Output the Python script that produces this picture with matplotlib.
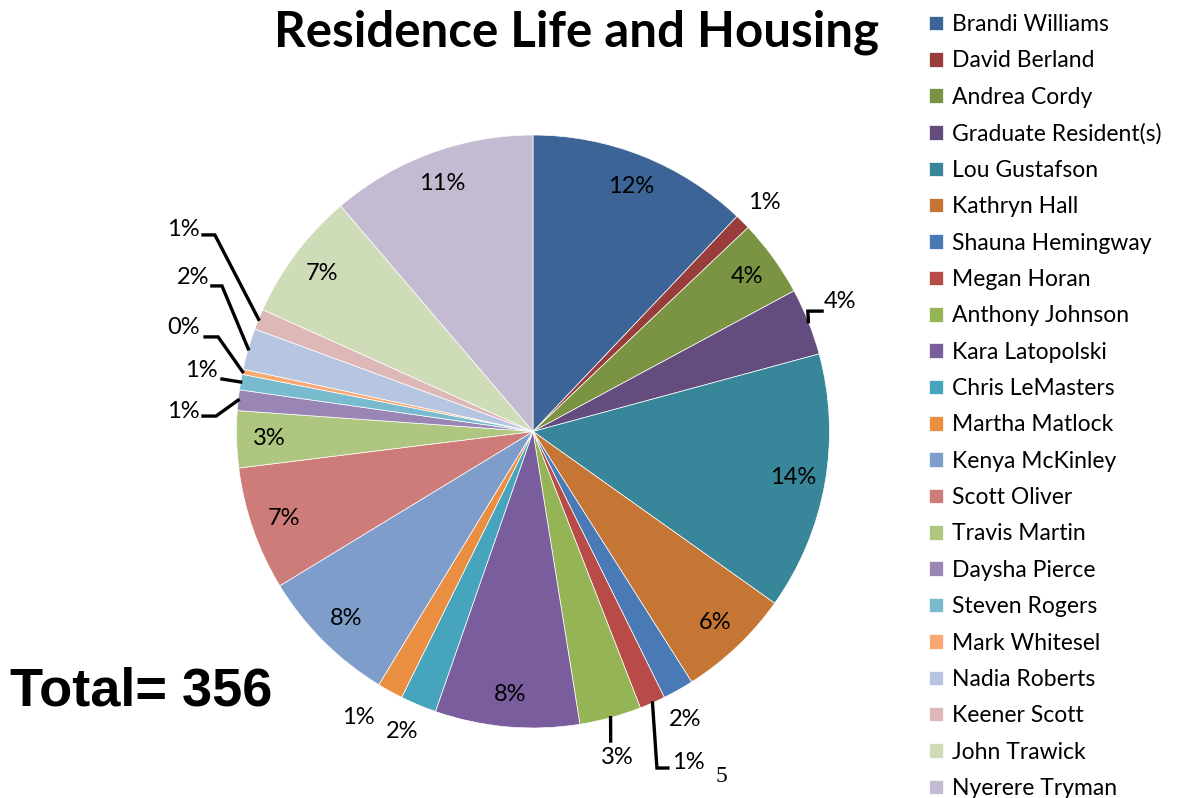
import numpy as np
import matplotlib.pyplot as plt

names = ['Brandi Williams', 'David Berland', 'Andrea Cordy', 'Graduate Resident(s)',
         'Lou Gustafson', 'Kathryn Hall', 'Shauna Hemingway', 'Megan Horan',
         'Anthony Johnson', 'Kara Latopolski', 'Chris LeMasters', 'Martha Matlock',
         'Kenya McKinley', 'Scott Oliver', 'Travis Martin', 'Daysha Pierce',
         'Steven Rogers', 'Mark Whitesel', 'Nadia Roberts', 'Keener Scott',
         'John Trawick', 'Nyerere Tryman']
counts = [43, 3, 15, 13, 50, 22, 6, 5, 12, 28, 7, 5, 27, 24, 11, 4, 3, 1, 8, 4, 25, 40]
colors = ['#3C6496', '#983D3B', '#7A9443', '#644D7E', '#388699', '#C57634',
          '#4A7AB5', '#B84A47', '#94B456', '#795D9C', '#47A4BD', '#EA8E42',
          '#7E9DCB', '#CD7C79', '#AEC67F', '#9A86B4', '#78BBCF', '#F8A870',
          '#B6C5E0', '#DEB7B7', '#CFDCB8', '#C4BAD2']

total = sum(counts)

# labels outside the pie: text position, and optional leader (elbow, end)
outside = {
    'David Berland': ((0.779, 0.771), None),
    'Graduate Resident(s)': ((1.035, 0.437), [(0.927, 0.406), (0.975, 0.406)]),
    'Shauna Hemingway': ((0.513, -0.973), None),
    'Megan Horan': ((0.523, -1.118), [(0.418, -1.135), (0.455, -1.135)]),
    'Anthony Johnson': ((0.283, -1.101), [(0.262, -1.044)]),
    'Chris LeMasters': ((-0.442, -1.013), None),
    'Martha Matlock': ((-0.590, -0.966), None),
    'Daysha Pierce': ((-1.180, 0.066), [(-1.069, 0.052), (-1.113, 0.052)]),
    'Steven Rogers': ((-1.120, 0.207), [(-1.049, 0.177)]),
    'Mark Whitesel': ((-1.180, 0.352), [(-1.062, 0.319), (-1.106, 0.319)]),
    'Nadia Roberts': ((-1.147, 0.521), [(-1.049, 0.491), (-1.083, 0.491)]),
    'Keener Scott': ((-1.180, 0.680), [(-1.073, 0.663), (-1.113, 0.663)]),
}

plt.rcParams['font.family'] = ['Lato', 'DejaVu Sans']

fig = plt.figure(figsize=(11.8, 7.98), dpi=100)
R = 296.5
ax = fig.add_axes([(533 - 300) / 1180, (798 - 431.5 - 300) / 798, 600 / 1180, 600 / 798])

wedges, _ = ax.pie(counts, colors=colors, startangle=90, counterclock=False, radius=1,
                   wedgeprops=dict(edgecolor='white', linewidth=0.5))
lim = 300 / R
ax.set_xlim(-lim, lim)
ax.set_ylim(-lim, lim)
ax.set_aspect('equal')

for name, v, w in zip(names, counts, wedges):
    pct = '%d%%' % int(v / total * 100 + 0.5)
    a = np.deg2rad((w.theta1 + w.theta2) / 2)
    if name in outside:
        pos, leader = outside[name]
        ax.text(pos[0], pos[1], pct, ha='center', va='center', fontsize=17)
        if leader:
            pts = [(np.cos(a), np.sin(a))] + leader
            ax.plot([p[0] for p in pts], [p[1] for p in pts], color='black',
                    lw=2.4, clip_on=False, solid_joinstyle='miter')
    else:
        ax.text(0.89 * np.cos(a), 0.89 * np.sin(a), pct, ha='center', va='center',
                fontsize=17)

fig.text(577 / 1180, 1 - 32 / 798, 'Residence Life and Housing', ha='center',
         va='center', fontsize=35.5, fontweight='bold')
fig.text(10 / 1180, 1 - 692 / 798, 'Total= 356', ha='left', va='center',
         fontsize=39, fontweight='bold', family='Liberation Sans')
fig.text(721 / 1180, 1 - 777 / 798, '5', ha='center', va='center', fontsize=17,
         family='Liberation Serif')

fig.legend(wedges, names, loc='upper left', bbox_to_anchor=(929 / 1180, 1 - 14 / 798),
           frameon=False, fontsize=16.5, borderpad=0, borderaxespad=0,
           handlelength=0.6, handleheight=0.6, handletextpad=0.4,
           labelspacing=0.67)

fig.savefig('out.png', dpi=100)
